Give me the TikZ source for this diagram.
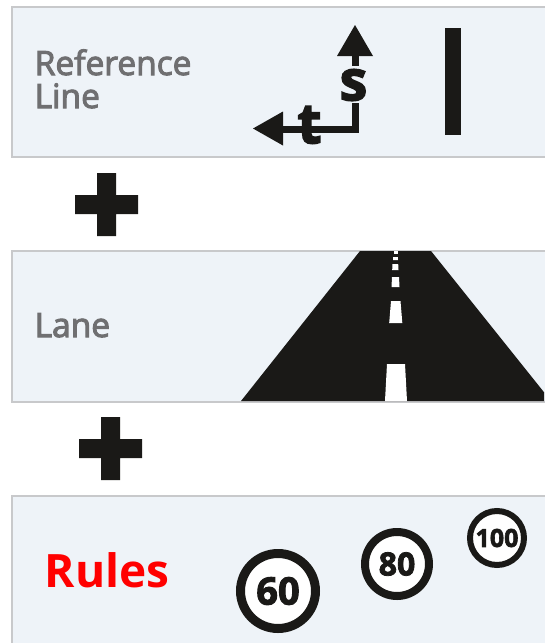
\documentclass[tikz,border=0pt]{standalone}
\usepackage{fontspec}
\setmainfont{Open Sans}
\newfontfamily\medfont{Open Sans}[FakeBold=3]
\newfontfamily\heavyfont{Open Sans}[UprightFont=*,BoldFont=* Bold,BoldFeatures={FakeBold=2.5}]
\definecolor{panelfill}{HTML}{EEF3F8}
\definecolor{panelline}{HTML}{C8C9CB}
\definecolor{ink}{HTML}{1A1917}
\definecolor{labelgrey}{HTML}{6F6F71}
\tikzset{
  panel/.style={fill=panelfill,draw=panelline,line width=1.2pt},
  paneltext/.style={anchor=base west,inner sep=0pt,text=labelgrey,font=\fontsize{33.5}{33.5}\medfont},
  solid ink/.style={fill=ink,draw=none},
  ink line/.style={draw=ink,line width=7pt},
  axis letter/.style={inner sep=0pt,text=ink,font=\fontsize{56}{56}\heavyfont\bfseries},
  road mark/.style={fill=white,draw=none},
  sign/.style={circle,fill=white,draw=ink,inner sep=0pt,text=ink},
}
\begin{document}
\begin{tikzpicture}[x=1pt,y=-1pt]
\useasboundingbox (0,0) rectangle (544,643);
\fill[white] (0,0) rectangle (544,643);
% panels
\draw[panel] (12,7) rectangle (560,157);
\draw[panel] (12,251) rectangle (560,402);
\draw[panel] (12,496) rectangle (560,660);
% panel labels
\node[paneltext] (reflabel) at (34.5,75) {Reference};
\node[paneltext] (linelabel) at (34.5,108) {Line};
\node[paneltext] (lanelabel) at (34.5,337) {Lane};
\node[anchor=base west,inner sep=0pt,text=red,font=\fontsize{46}{46}\selectfont\bfseries] (ruleslabel) at (44.5,587) {Rules};
% axes
\draw[ink line] (355,50) -- (355,66);
\fill[solid ink] (355,25) -- (373,56) -- (337,56) -- cycle;
\draw[ink line,line join=miter] (355,103) -- (355,129) -- (300,129) -- (276,129);
\fill[solid ink] (253,128.5) -- (283,111.5) -- (283,145.5) -- cycle;
\node[axis letter] (slabel) at (353.5,85) {s};
\node[axis letter] (tlabel) at (309.5,125) {t};
\fill[solid ink] (445,28) rectangle (461,135);
% plus signs
\fill[solid ink] (97,173) rectangle (116,236) (75,195) rectangle (138,214);
\fill[solid ink] (101,417) rectangle (120,480) (79,439) rectangle (142,458);
% road
\begin{scope}
\clip (0,251) rectangle (544,401);
\fill[solid ink] (360,251) -- (431,251) -- (551,401) -- (241,401) -- cycle;
\end{scope}
\fill[road mark] (394,251) rectangle (397.5,254);
\fill[road mark] (393.2,257) -- (397.8,257) -- (398,260) -- (393,260) -- cycle;
\fill[road mark] (392.5,264) -- (398.2,264) -- (398.5,270) -- (392.2,270) -- cycle;
\fill[road mark] (392,277) -- (399,277) -- (399.5,287) -- (391.5,287) -- cycle;
\fill[road mark] (391,301) -- (400.5,301) -- (402.3,323) -- (389.2,323) -- cycle;
\fill[road mark] (387,364) -- (405,364) -- (407,401) -- (385,401) -- cycle;
% signs
\node[sign,minimum size=75pt,line width=9pt,font=\fontsize{38}{38}\heavyfont\bfseries] (sixty) at (278,591) {60};
\node[sign,minimum size=64pt,line width=8pt,font=\fontsize{32}{32}\heavyfont\bfseries] (eighty) at (397,564) {80};
\node[sign,minimum size=54pt,line width=6pt,font=\fontsize{25}{25}\heavyfont\bfseries] (hundred) at (497,538) {100};
\end{tikzpicture}
\end{document}
